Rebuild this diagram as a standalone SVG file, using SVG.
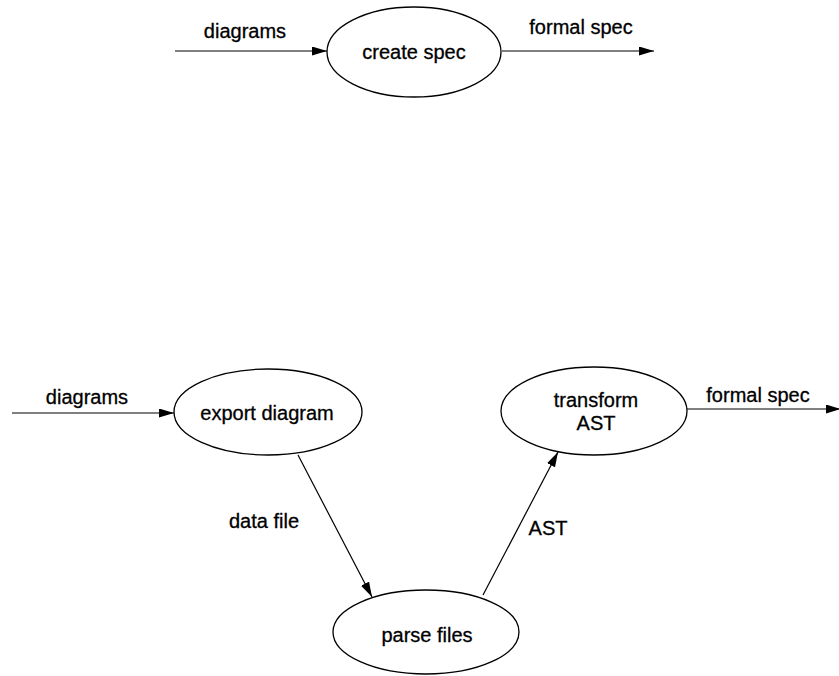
<svg xmlns="http://www.w3.org/2000/svg" width="839" height="676" viewBox="0 0 839 676">
<defs>
<style>
.n{fill:#fff;stroke:#000;stroke-width:1.3}
.e{fill:none;stroke:#000;stroke-width:1.2;marker-end:url(#ah)}
text{font-family:"Liberation Sans",Arial,sans-serif;font-size:20px;fill:#000;stroke:#000;stroke-width:0.3;text-anchor:middle}
</style>
<marker id="ah" markerUnits="userSpaceOnUse" markerWidth="16" markerHeight="10" refX="15" refY="4.5" orient="auto">
<path d="M0,0 L15,4.5 L0,9 z" fill="#000"/>
</marker>
</defs>
<rect width="839" height="676" fill="#fff"/>
<g id="connectors">
<line class="e" x1="175" y1="51" x2="327" y2="51"/>
<line class="e" x1="502" y1="51" x2="654" y2="51"/>
<line class="e" x1="12" y1="413" x2="174" y2="413"/>
<line class="e" x1="687" y1="409" x2="841" y2="409"/>
<line class="e" x1="298" y1="455" x2="372" y2="597"/>
<line class="e" x1="483" y1="595" x2="558" y2="452"/>
<text x="245" y="38">diagrams</text>
<text x="581" y="34">formal spec</text>
<text x="87" y="404">diagrams</text>
<text x="758" y="402">formal spec</text>
<text x="264" y="528">data file</text>
<text x="548" y="535">AST</text>
</g>
<g id="create-spec">
<ellipse class="n" cx="414" cy="52" rx="87" ry="45"/>
<text x="414" y="59">create spec</text>
</g>
<g id="export-diagram">
<ellipse class="n" cx="268" cy="412" rx="94" ry="43"/>
<text x="267" y="420">export diagram</text>
</g>
<g id="transform-ast">
<ellipse class="n" cx="594" cy="411" rx="93" ry="44"/>
<text x="596" y="407">transform</text>
<text x="596" y="430">AST</text>
</g>
<g id="parse-files">
<ellipse class="n" cx="426" cy="632" rx="93" ry="42"/>
<text x="427" y="642">parse files</text>
</g>
</svg>
